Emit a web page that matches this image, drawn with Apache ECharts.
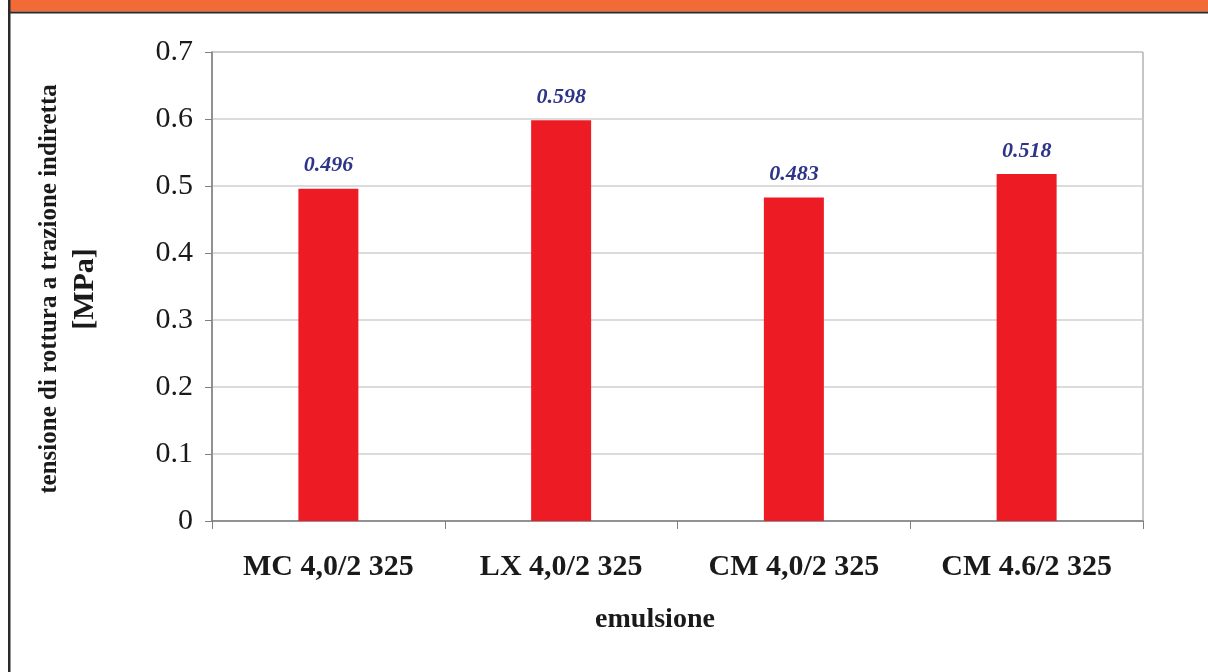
<!DOCTYPE html>
<html>
<head>
<meta charset="utf-8">
<script src="https://cdn.jsdelivr.net/npm/echarts@6/dist/echarts.min.js"></script>
<style>
  html, body { margin: 0; padding: 0; background: #ffffff; }
  #chart { width: 1208px; height: 672px; }
</style>
</head>
<body>
<div id="chart"></div>
<script>
// Emulsion types on the category axis
const categories = ['MC 4,0/2 325', 'LX 4,0/2 325', 'CM 4,0/2 325', 'CM 4.6/2 325'];
// Indirect tensile strength [MPa]
const strengthValues = [0.496, 0.598, 0.483, 0.518];
// Value axis range and step
const yMin = 0;
const yMax = 0.7;
const yStep = 0.1;
const yTitleMain = 'tensione di rottura a trazione indiretta';
const yTitleUnit = '[MPa]';
const xTitle = 'emulsione';

const serif = "'Liberation Serif', 'Times New Roman', 'DejaVu Serif', serif";
const chart = echarts.init(document.getElementById('chart'), null, { renderer: 'canvas' });

chart.setOption({
  backgroundColor: '#ffffff',
  animation: false,
  grid: { left: 212, right: 65, top: 52, bottom: 151, show: true, borderColor: '#8c8c8c', borderWidth: 1, backgroundColor: 'transparent' },
  xAxis: {
    type: 'category',
    data: categories,
    axisLine: { lineStyle: { color: '#7f7f7f', width: 1.5 } },
    axisTick: { show: true, alignWithLabel: false, length: 8, lineStyle: { color: '#7f7f7f' } },
    axisLabel: { color: '#1a1a1a', fontFamily: serif, fontWeight: 'bold', fontSize: 30, margin: 31 }
  },
  yAxis: {
    type: 'value',
    min: yMin,
    max: yMax,
    interval: yStep,
    axisLine: { show: true, lineStyle: { color: '#7f7f7f', width: 1.5 } },
    axisTick: { show: true, inside: false, length: 7, lineStyle: { color: '#7f7f7f' } },
    axisLabel: {
      color: '#1a1a1a', fontFamily: serif, fontSize: 30, margin: 19,
      formatter: v => (Math.round(v * 10) / 10).toString()
    },
    splitLine: { lineStyle: { color: '#cfcfcf', width: 1.5 } }
  },
  series: [{
    type: 'bar',
    data: strengthValues,
    barWidth: 60,
    itemStyle: { color: '#ed1c24' },
    label: {
      show: true,
      position: 'top',
      distance: 12,
      color: '#2e3589',
      fontFamily: serif,
      fontStyle: 'italic',
      fontWeight: 'bold',
      fontSize: 22,
      formatter: p => p.value.toFixed(3)
    }
  }],
  graphic: [
    // header band and frame
    { type: 'rect', shape: { x: 9, y: 0, width: 1199, height: 11.5 }, style: { fill: '#f26b36' }, silent: true },
    { type: 'rect', shape: { x: 8, y: 11.5, width: 1200, height: 2 }, style: { fill: '#2a2a2a' }, silent: true },
    { type: 'rect', shape: { x: 8, y: 0, width: 2.5, height: 672 }, style: { fill: '#2a2a2a' }, silent: true },
    // axis titles
    {
      type: 'text',
      x: 68, y: 289,
      rotation: Math.PI / 2,
      style: {
        text: '{a|' + yTitleMain + '}\n{b|' + yTitleUnit + '}',
        fill: '#1a1a1a',
        align: 'center',
        verticalAlign: 'middle',
        rich: {
          a: { font: 'bold 25px ' + serif, fill: '#1a1a1a', lineHeight: 34, align: 'center' },
          b: { font: 'bold 30px ' + serif, fill: '#1a1a1a', lineHeight: 36, align: 'center' }
        }
      },
      silent: true
    },
    {
      type: 'text',
      x: 655, y: 620,
      style: {
        text: xTitle,
        fill: '#1a1a1a',
        font: 'bold 28px ' + serif,
        align: 'center',
        verticalAlign: 'middle'
      },
      silent: true
    }
  ]
});
</script>
</body>
</html>
